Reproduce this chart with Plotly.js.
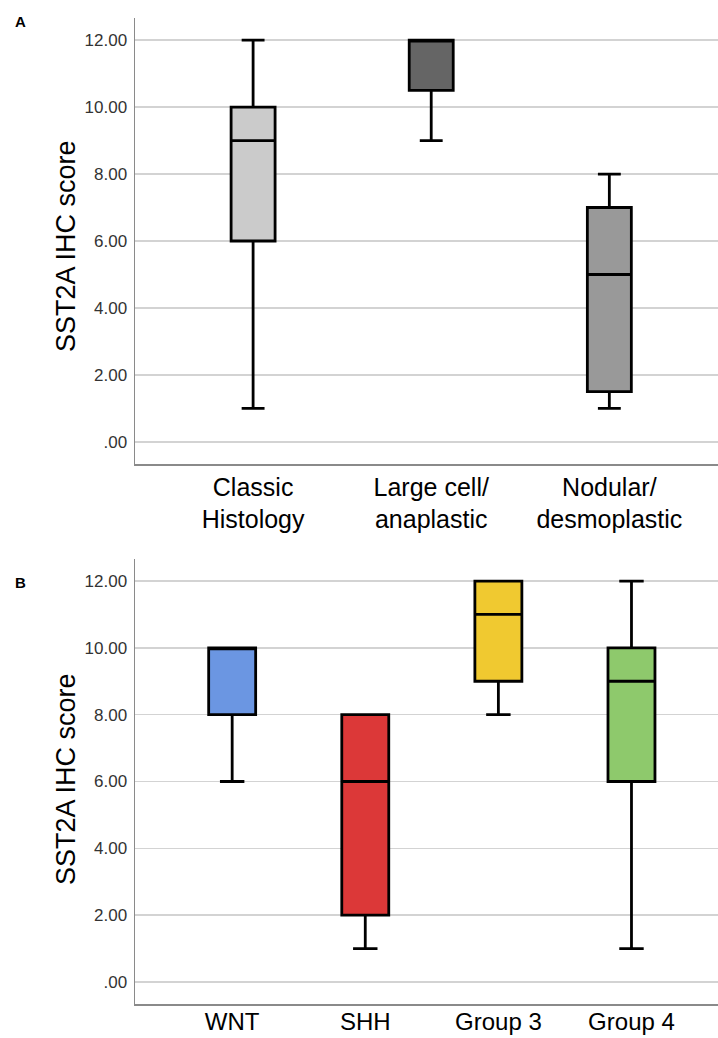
<!DOCTYPE html>
<html>
<head>
<meta charset="utf-8">
<script src="https://cdn.plot.ly/plotly-3.0.1.min.js"></script>
<style>html,body{margin:0;padding:0;background:#fff;}#chart{width:718px;height:1038px;}</style>
</head>
<body>
<div id="chart"></div>
<script>
// Panel A: histology
const catA = ['Classic<br>Histology', 'Large cell/<br>anaplastic', 'Nodular/<br>desmoplastic'];
const lowA = [1, 9, 1];
const q1A = [6, 10.5, 1.5];
const medA = [9, 12, 5];
const q3A = [10, 12, 7];
const upA = [12, 12, 8];
const colA = ['#cbcbcb', '#656565', '#999999'];

// Panel B: molecular subgroup
const catB = ['WNT', 'SHH', 'Group 3', 'Group 4'];
const lowB = [6, 1, 8, 1];
const q1B = [8, 2, 9, 6];
const medB = [10, 6, 11, 9];
const q3B = [10, 8, 12, 10];
const upB = [10, 8, 12, 12];
const colB = ['#6b96e2', '#dc3838', '#f0c930', '#8ec96c'];

const yTickVals = [0, 2, 4, 6, 8, 10, 12];
const yTickText = ['.00', '2.00', '4.00', '6.00', '8.00', '10.00', '12.00'];
const yTitle = 'SST2A IHC score';

const traces = [];
function addBoxes(cats, lo, q1, med, q3, up, cols, xa, ya, w) {
  cats.forEach((c, i) => {
    traces.push({
      type: 'box', x: [i], q1: [q1[i]], median: [med[i]], q3: [q3[i]],
      lowerfence: [lo[i]], upperfence: [up[i]],
      xaxis: xa, yaxis: ya, width: w, whiskerwidth: 0.52,
      fillcolor: cols[i], line: {color: '#000', width: 2.8},
      boxpoints: false, hoverinfo: 'skip', showlegend: false, name: c.replace('<br>', ' ')
    });
  });
}
addBoxes(catA, lowA, q1A, medA, q3A, upA, colA, 'x', 'y', 0.247);
addBoxes(catB, lowB, q1B, medB, q3B, upB, colB, 'x2', 'y2', 0.353);

const font = 'Liberation Sans, Arial, Helvetica, sans-serif';
const yaxisBase = {
  range: [-0.66, 12.66], tickvals: yTickVals, ticktext: yTickText,
  showgrid: true, gridcolor: '#d3d3d3', gridwidth: 1.5, zeroline: false,
  showline: true, linecolor: '#8a8a8a', linewidth: 1.5, ticks: '',
  ticklabelstandoff: 3, tickfont: {family: font, size: 17, color: '#333'}, fixedrange: true
};
const xaxisBase = {
  showgrid: false, zeroline: false, showline: true, linecolor: '#8a8a8a', linewidth: 1.5,
  ticks: '', tickfont: {family: font, size: 25, color: '#000'}, domain: [135/718, 1], fixedrange: true
};

const layout = {
  width: 718, height: 1038, margin: {l: 0, r: 0, t: 0, b: 0},
  paper_bgcolor: '#fff', plot_bgcolor: '#fff', showlegend: false,
  xaxis: Object.assign({}, xaxisBase, {anchor: 'y', range: [-0.663, 2.61], tickvals: [0, 1, 2], ticktext: catA}),
  yaxis: Object.assign({}, yaxisBase, {anchor: 'x', domain: [1 - 464/1038, 1 - 18/1038]}),
  xaxis2: Object.assign({}, xaxisBase, {anchor: 'y2', range: [-0.73, 3.65], tickvals: [0, 1, 2, 3], ticktext: catB,
    ticklabelstandoff: -4, tickfont: {family: font, size: 24, color: '#000'}}),
  yaxis2: Object.assign({}, yaxisBase, {anchor: 'x2', domain: [1 - 1004/1038, 1 - 559/1038]}),
  annotations: [
    {text: yTitle, xref: 'paper', yref: 'paper', x: 66/718, y: 1 - 246/1038, textangle: -90,
     showarrow: false, xanchor: 'center', yanchor: 'middle', font: {family: font, size: 27, color: '#000'}},
    {text: yTitle, xref: 'paper', yref: 'paper', x: 66/718, y: 1 - 779/1038, textangle: -90,
     showarrow: false, xanchor: 'center', yanchor: 'middle', font: {family: font, size: 27, color: '#000'}},
    {text: '<b>A</b>', xref: 'paper', yref: 'paper', x: 20/718, y: 1 - 22/1038, showarrow: false,
     xanchor: 'center', yanchor: 'middle', font: {family: font, size: 15, color: '#000'}},
    {text: '<b>B</b>', xref: 'paper', yref: 'paper', x: 20/718, y: 1 - 582/1038, showarrow: false,
     xanchor: 'center', yanchor: 'middle', font: {family: font, size: 15, color: '#000'}}
  ]
};

Plotly.newPlot('chart', traces, layout, {displayModeBar: false, staticPlot: true});
</script>
</body>
</html>
